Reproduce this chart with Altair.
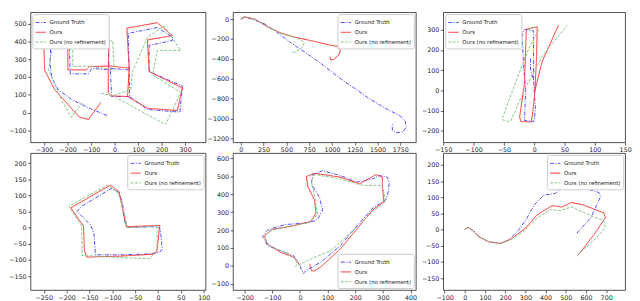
import altair as alt
import pandas as pd

SERIES = ["Ground Truth", "Ours", "Ours (no refinement)"]
COLORS = ["#4d4dff", "#ff2a2a", "#86c686"]
DASHES = [[4, 1.5, 1, 1.5], [1, 0], [3, 1.5]]

# ---------------- panel 1 ----------------
P1_GT = [
    [(-32, -17), (-107, 24), (-182, 72), (-239, 127), (-267, 195), (-275, 277), (-272, 369), (-157, 374),
     (-27, 372), (-24, 250), (62, 240), (64, 90), (-13, 90), (-18, 240), (-97, 248), (-112, 218), (-189, 218),
     (-192, 365)],
    [(62, 240), (58, 446), (182, 479), (246, 424), (246, 406), (147, 378), (147, 231), (288, 149), (278, 2),
     (140, 17), (64, 90)],
]
P1_OURS = [
    [(-58, 57), (-112, -39), (-150, -26), (-256, 130), (-298, 240), (-301, 378), (-284, 391), (-199, 391),
     (-23, 402), (-27, 259), (-27, 112), (-16, 94), (55, 90), (62, 250), (-16, 262), (-107, 259), (-121, 240),
     (-199, 240), (-199, 396)],
    [(62, 250), (52, 475), (182, 506), (246, 433), (140, 409), (147, 231), (288, 139), (267, 11), (140, 24),
     (55, 90)],
]
P1_NOREF = [
    [(-136, 57), (-185, -28), (-234, 94), (-281, 240), (-256, 442), (-128, 418), (-8, 402), (-1, 240),
     (-114, 262), (-178, 259), (-178, 387)],
    [(-58, 108), (-8, 94), (69, 130), (76, 231), (140, 424), (210, 488), (281, 350), (182, 350), (161, 213),
     (281, 112), (217, -68), (6, 84)],
]

# ---------------- panel 2 ----------------
P2_GT = [[(0, 0), (40, 16), (119, 0), (263, -49), (408, -141), (552, -240), (696, -329), (877, -444),
          (1057, -575), (1238, -690), (1418, -806), (1598, -904), (1743, -970), (1804, -1029), (1815, -1085),
          (1779, -1134), (1714, -1144), (1663, -1118), (1660, -1069), (1678, -1042)]]
P2_OURS = [[(0, 0), (40, 23), (155, 0), (300, -82), (444, -141), (588, -181), (805, -224), (985, -263),
            (1057, -273), (1093, -312), (1075, -362), (1021, -404), (985, -411), (978, -378)]]
P2_NOREF = [[(0, 0), (40, 23), (155, 0), (300, -82), (444, -148), (552, -174), (660, -207), (696, -240),
             (667, -296), (606, -329), (560, -339)]]

# ---------------- panel 3 ----------------
P3_GT = [[(-1, 53), (-1, 294), (-16, 302), (-20, 270), (-17, 101), (-14, 5), (-16, -148), (0, -153),
          (2, -92), (-1, 53), (-6, 101), (-6, 160)]]
P3_OURS = [[(-13, 302), (5, 314), (4, 166), (1, -11), (-3, -124), (-5, -156), (-22, -153), (-24, -132),
            (-16, 37), (-13, 302)],
           [(1, -3), (13, 142), (40, 322)]]
P3_NOREF = [[(-10, 300), (3, 314), (8, 302), (-8, 214), (-27, 69), (-43, -60), (-53, -143), (-46, -153),
             (-38, -148), (-16, 5), (16, 182), (54, 319)]]

# ---------------- panel 4 ----------------
P4_GT = [[(0, 3), (5, -5), (9, -66), (4, -76), (-17, -81), (-80, -84), (-137, -84), (-140, -20), (-147, 7),
          (-177, 51), (-167, 66), (-103, 121), (-88, 111), (-78, 81), (-73, 20), (-68, 1), (-30, 2), (0, 3)]]
P4_OURS = [[(4, 7), (-3, -76), (-10, -82), (-81, -88), (-156, -91), (-161, -71), (-163, 5), (-191, 61),
            (-179, 71), (-104, 132), (-85, 111), (-76, 46), (-69, 3), (4, 7)]]
P4_NOREF = [[(-2, 5), (-2, -66), (-17, -96), (-60, -94), (-166, -86), (-167, 5), (-195, 66), (-110, 132),
             (-88, 111), (-74, 46), (-67, 0), (-2, 5)]]

# ---------------- panel 5 ----------------
P5_GT = [[(0, 0), (12, -42), (23, -24), (76, 22), (146, 113), (205, 222), (263, 322), (310, 367), (321, 422),
          (322, 467), (316, 495), (287, 504), (263, 485), (205, 467), (146, 504), (82, 531), (47, 509),
          (41, 458), (70, 385), (82, 313), (64, 258), (29, 240), (-53, 231), (-117, 200), (-135, 164),
          (-117, 113), (-70, 85), (-23, 58), (-4, 13), (0, 0)]]
P5_OURS = [[(35, 13), (41, -24), (50, -29), (76, -5), (146, 95), (205, 204), (263, 313), (304, 358),
            (298, 440), (298, 495), (275, 509), (216, 458), (146, 495), (53, 516), (23, 498), (29, 440),
            (53, 367), (58, 295), (41, 249), (-29, 222), (-99, 204), (-129, 167), (-117, 122), (-70, 76),
            (-23, 49), (0, 4)]]
P5_NOREF = [[(-6, 4), (41, 40), (111, 85), (158, 149), (205, 213), (263, 304), (310, 358), (298, 449),
             (228, 449), (205, 458), (146, 485), (53, 510), (41, 476), (53, 385), (64, 285), (29, 240),
             (-41, 222), (-111, 195), (-129, 158), (-111, 113), (-41, 67), (-8, 31), (-15, -5)]]

# ---------------- panel 6 ----------------
P6_GT = [[(0, 0), (16, 7), (40, -3), (72, -23), (120, -38), (176, -43), (216, -33), (264, -3), (304, 32),
          (344, 77), (392, 107), (448, 112), (496, 137), (528, 137), (600, 127), (664, 115), (672, 102),
          (624, 37), (552, -13)]]
P6_OURS = [[(0, 0), (16, 7), (40, -3), (72, -23), (120, -38), (176, -43), (232, -28), (296, 2), (360, 47),
            (432, 74), (480, 70), (528, 84), (584, 77), (688, 52), (696, 37), (648, -8), (600, -48),
            (560, -80)]]
P6_NOREF = [[(0, 0), (16, 7), (40, -3), (72, -23), (120, -38), (176, -43), (232, -30), (296, -3), (360, 37),
             (424, 62), (472, 59), (528, 70), (600, 50), (688, 27), (696, 7), (648, -28), (584, -63),
             (552, -83)]]

# tick values
P1_XT = [-300, -200, -100, 0, 100, 200, 300]
P1_YT = [-100, 0, 100, 200, 300, 400, 500, 600]
P2_XT = [0, 250, 500, 750, 1000, 1250, 1500, 1750]
P2_YT = [-1200, -1000, -800, -600, -400, -200, 0]
P3_XT = [-150, -100, -50, 0, 50, 100, 150]
P3_YT = [-200, -100, 0, 100, 200, 300, 400]
P4_XT = [-300, -250, -200, -150, -100, -50, 0, 50, 100]
P4_YT = [-150, -100, -50, 0, 50, 100, 150, 200]
P5_XT = [-200, -100, 0, 100, 200, 300, 400]
P5_YT = [-100, 0, 100, 200, 300, 400, 500, 600]
P6_XT = [-100, 0, 100, 200, 300, 400, 500, 600, 700]
P6_YT = [-150, -100, -50, 0, 50, 100, 150, 200]


def frame(gt, ours, noref):
    rows = []
    i = 0
    for name, segs in zip(SERIES, [gt, ours, noref]):
        for s, seg in enumerate(segs):
            for (x, y) in seg:
                rows.append({"x": x, "y": y, "series": name, "seg": f"{name}-{s}", "i": i})
                i += 1
    return pd.DataFrame(rows)


def panel(gt, ours, noref, xdom, ydom, xt, yt, w, h, orient):
    df = frame(gt, ours, noref)
    xt = [v for v in xt if xdom[0] <= v <= xdom[1]]
    yt = [v for v in yt if ydom[0] <= v <= ydom[1]]
    leg = alt.Legend(orient=orient, title=None, offset=2)
    return alt.Chart(df).mark_line(strokeWidth=1, clip=True).encode(
        x=alt.X("x:Q", scale=alt.Scale(domain=xdom, nice=False, zero=False),
                axis=alt.Axis(values=xt, title=None, format="d")),
        y=alt.Y("y:Q", scale=alt.Scale(domain=ydom, nice=False, zero=False),
                axis=alt.Axis(values=yt, title=None, format="d")),
        color=alt.Color("series:N", scale=alt.Scale(domain=SERIES, range=COLORS), legend=leg),
        strokeDash=alt.StrokeDash("series:N", scale=alt.Scale(domain=SERIES, range=DASHES), legend=leg),
        detail="seg:N",
        order="i:Q",
    ).properties(width=w, height=h)


p1 = panel(P1_GT, P1_OURS, P1_NOREF, [-358, 387], [-168, 565], P1_XT, P1_YT, 179, 133, "top-left")
p2 = panel(P2_GT, P2_OURS, P2_NOREF, [-86, 1920], [-1240, 69], P2_XT, P2_YT, 187, 133, "top-right")
p3 = panel(P3_GT, P3_OURS, P3_NOREF, [-150, 150], [-256, 386], P3_XT, P3_YT, 186, 133, "top-left")
p4 = panel(P4_GT, P4_OURS, P4_NOREF, [-279, 104], [-193, 231], P4_XT, P4_YT, 179, 140, "top-right")
p5 = panel(P5_GT, P5_OURS, P5_NOREF, [-242, 419], [-134, 629], P5_XT, P5_YT, 187, 140, "bottom-right")
p6 = panel(P6_GT, P6_OURS, P6_NOREF, [-107, 794], [-187, 237], P6_XT, P6_YT, 186, 140, "top-right")

chart = alt.concat(
    p1, p2, p3, p4, p5, p6, columns=3, spacing={"row": 11, "column": 28}, bounds="flush", align="each"
).resolve_scale(
    x="independent", y="independent", color="independent", strokeDash="independent"
).resolve_legend(
    color="independent", strokeDash="independent"
).properties(
    padding={"left": 0, "top": 0, "right": 0, "bottom": 0}
).configure(
    font="DejaVu Sans"
).configure_view(
    stroke="#222", strokeWidth=0.8
).configure_axis(
    domain=False, grid=False, labelFontSize=6.5, labelColor="#222", tickColor="#222", tickSize=3,
    tickWidth=0.7, labelPadding=1.5, labelOverlap=False, labelFlush=False
).configure_legend(
    labelFontSize=5.5, labelColor="#222", symbolType="stroke", symbolSize=110, symbolStrokeWidth=1,
    fillColor="white", strokeColor="#cccccc", cornerRadius=2, padding=2.5, rowPadding=0,
    labelOffset=3, labelLimit=200
)

chart.save("out.html", embed_options={"renderer": "svg", "actions": False})
